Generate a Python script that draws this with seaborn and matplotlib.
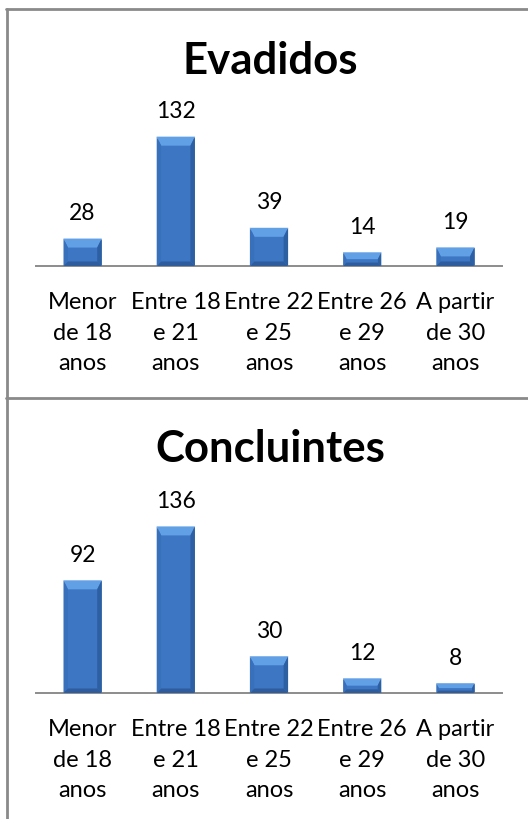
import matplotlib
matplotlib.use("Agg")
import matplotlib.pyplot as plt
from matplotlib.patches import Polygon
from matplotlib.transforms import IdentityTransform
from matplotlib.lines import Line2D
import seaborn as sns
import pandas as pd

categories = ["Menor\nde 18\nanos", "Entre 18\ne 21\nanos", "Entre 22\ne 25\nanos",
              "Entre 26\ne 29\nanos", "A partir\nde 30\nanos"]
evadidos = [28, 132, 39, 14, 19]
concluintes = [92, 136, 30, 12, 8]
titles = ["Evadidos", "Concluintes"]

W, H, DPI = 528, 819, 100
sns.set_theme(style="white")
plt.rcParams["font.family"] = ["Lato", "DejaVu Sans"]

fig = plt.figure(figsize=(W / DPI, H / DPI), dpi=DPI)

BASE = "#3d77c4"
TOP = "#62a0e6"
LEFT = "#3870bb"
RIGHT = "#2d5fa3"
BOTTOM = "#2e5c9c"


def px_axes(left, top, width, height):
    return fig.add_axes([left / W, 1 - (top + height) / H, width / W, height / H])


def bevel(ax, patch):
    x0, y0 = ax.transData.transform((patch.get_x(), 0))
    x1, y1 = ax.transData.transform((patch.get_x() + patch.get_width(), patch.get_height()))
    d = min(9.0, (y1 - y0) / 2.0, (x1 - x0) / 2.0)
    dl = d * 0.5
    db = d * 0.5
    inner = [(x0 + dl, y1 - d), (x1 - dl, y1 - d), (x1 - dl, y0 + db), (x0 + dl, y0 + db)]
    faces = [
        ([(x0, y1), (x1, y1), inner[1], inner[0]], TOP),
        ([(x0, y1), inner[0], inner[3], (x0, y0)], LEFT),
        ([(x1, y1), (x1, y0), inner[2], inner[1]], RIGHT),
        ([(x0, y0), inner[3], inner[2], (x1, y0)], BOTTOM),
    ]
    for pts, col in faces:
        ax.add_patch(Polygon(pts, closed=True, facecolor=col, edgecolor="none",
                             transform=IdentityTransform(), zorder=3, clip_on=False))


def panel(values, title, title_y, base_y, px_per_unit, ymax):
    height = ymax * px_per_unit
    ax = px_axes(36, base_y - height, 466, height)
    df = pd.DataFrame({"faixa": categories, "valor": values})
    sns.barplot(data=df, x="faixa", y="valor", color=BASE, width=0.41,
                saturation=1, ax=ax, zorder=2)
    ax.set_ylim(0, ymax)
    ax.set_xlim(-0.5, len(categories) - 0.5)
    ax.set_xlabel("")
    ax.set_ylabel("")
    ax.set_yticks([])
    for s in ["top", "left", "right"]:
        ax.spines[s].set_visible(False)
    ax.spines["bottom"].set_color("#8c8c8c")
    ax.spines["bottom"].set_linewidth(1.4)
    ax.tick_params(axis="x", length=0, pad=18.5, labelsize=17, colors="black")
    for lbl in ax.get_xticklabels():
        lbl.set_linespacing(1.58)
    for patch in ax.patches:
        bevel(ax, patch)
    for i, v in enumerate(values):
        ax.annotate(str(v), (i, v), xytext=(0, 10.5), textcoords="offset points",
                    ha="center", va="bottom", fontsize=16.5, color="black")
    fig.text(0.5 * (36 + 502) / W + 0.003, 1 - title_y / H, title, ha="center",
             va="center", fontsize=31.5, fontweight="bold", color="black")
    return ax


panel(evadidos, titles[0], 61, 266, 0.98, 140)
panel(concluintes, titles[1], 449, 693, 1.225, 160)

# panel frames
frame = dict(color="#8a8a8a", linewidth=2.0, transform=fig.transFigure)
fig.add_artist(Line2D([6.5 / W, 6.5 / W], [1 - 9 / H, 0], **frame))
fig.add_artist(Line2D([6 / W, 1], [1 - 9 / H, 1 - 9 / H], **frame))
fig.add_artist(Line2D([6 / W, 1], [1 - 398 / H, 1 - 398 / H], **frame))

fig.savefig("out.png", dpi=DPI, facecolor="white")
